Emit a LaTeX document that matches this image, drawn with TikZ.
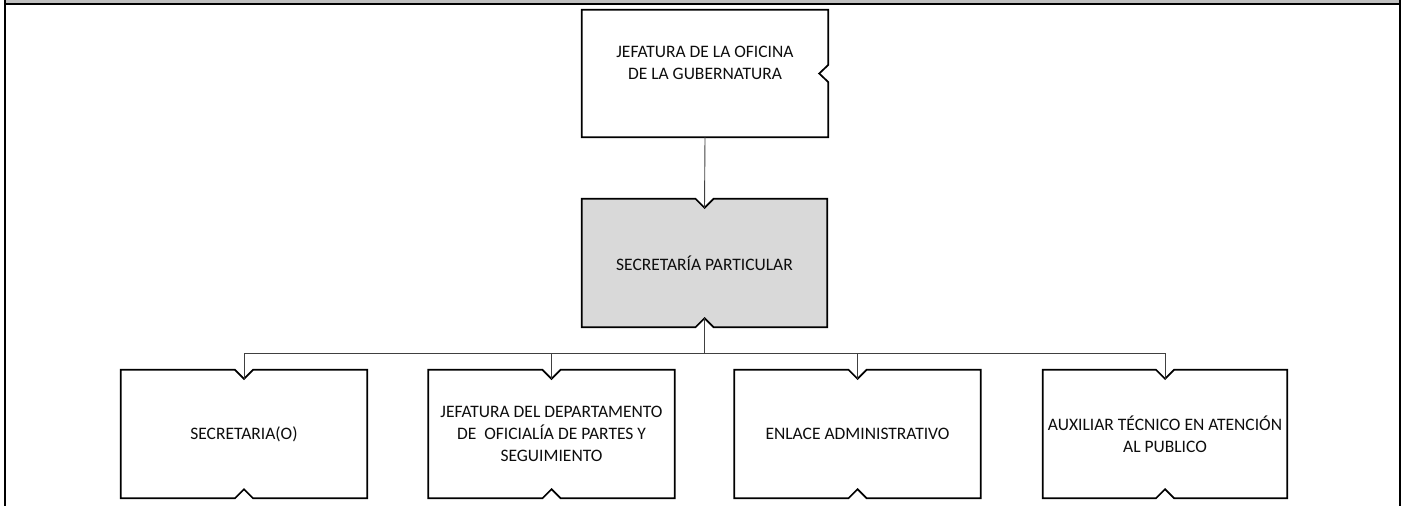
\documentclass[tikz,border=0pt]{standalone}
\usepackage{fontspec}
\setmainfont{Carlito}
\usetikzlibrary{calc}
\tikzset{
  boxnode/.style={minimum width=246pt, minimum height=128pt, inner sep=0pt, align=center, font=\fontsize{17.5}{22}\selectfont, text=black!95},
  outline/.style={draw=black, line width=1.7pt, line join=miter},
  conn/.style={draw=black!75, line width=0.9pt},
  frameline/.style={draw=black, line width=2.2pt}
}
\newcommand\nchpath[2]{% name, fill
  \path[outline, fill=#2] (#1.north west) -- ($(#1.north)+(-9,0)$) -- ($(#1.north)+(0,9)$) -- ($(#1.north)+(9,0)$) -- (#1.north east)
   -- (#1.south east) -- ($(#1.south)+(9,0)$) -- ($(#1.south)+(0,-9)$) -- ($(#1.south)+(-9,0)$) -- (#1.south west) -- cycle;
  \coordinate (#1-in) at ($(#1.north)+(0,9)$);
}
\begin{document}
\begin{tikzpicture}[x=1pt, y=-1pt]
\useasboundingbox (0,0) rectangle (1406,506);
% frame
\fill[black!25] (5,0) rectangle (1400,3);
\draw[frameline] (5,0) -- (5,506);
\draw[frameline] (1400,0) -- (1400,506);
\draw[frameline] (5,4) -- (1400,4);
% top box
\node[boxnode, minimum height=127pt, label={[align=center, font=\fontsize{17.5}{22}\selectfont, text=black!95, yshift=11pt]center:JEFATURA DE LA OFICINA\\DE LA GUBERNATURA}] (top) at (705,73.5) {};
\path[outline] (top.north west) -- (top.north east) -- ($(top.east)+(0,-8.5)$) -- ($(top.east)+(-9,0)$) -- ($(top.east)+(0,8.5)$) -- (top.south east) -- (top.south west) -- cycle;
% middle box
\node[boxnode, minimum width=245pt] (mid) at (704.5,263) {};
\nchpath{mid}{black!15}
\node[boxnode, minimum width=245pt] at (mid) {SECRETARÍA PARTICULAR};
% bottom boxes
\node[boxnode] (b1) at (244,434) {};
\node[boxnode] (b2) at (551.5,434) {};
\node[boxnode] (b3) at (857.5,434) {};
\node[boxnode, minimum width=244pt] (b4) at (1165,434) {};
\nchpath{b1}{white}
\nchpath{b2}{white}
\nchpath{b3}{white}
\nchpath{b4}{white}
\node[boxnode] at (b1) {SECRETARIA(O)};
\node[boxnode] at (b2) {JEFATURA DEL DEPARTAMENTO\\DE\ \ OFICIALÍA DE PARTES Y\\SEGUIMIENTO};
\node[boxnode] at (b3) {ENLACE ADMINISTRATIVO};
\node[boxnode, minimum width=244pt] at (b4) {AUXILIAR TÉCNICO EN ATENCIÓN\\AL PUBLICO};
% connectors
\coordinate (mid-out) at ($(mid.south)+(0,-9)$);
\coordinate (bus) at (704.5,353.5);
\draw[conn] (top.south) -- (mid-in);
\draw[conn] (mid-out) -- (bus);
\draw[conn] (b1-in) |- (bus) -| (b4-in);
\draw[conn] (b2-in) -- (b2-in |- bus);
\draw[conn] (b3-in) -- (b3-in |- bus);
\end{tikzpicture}
\end{document}
